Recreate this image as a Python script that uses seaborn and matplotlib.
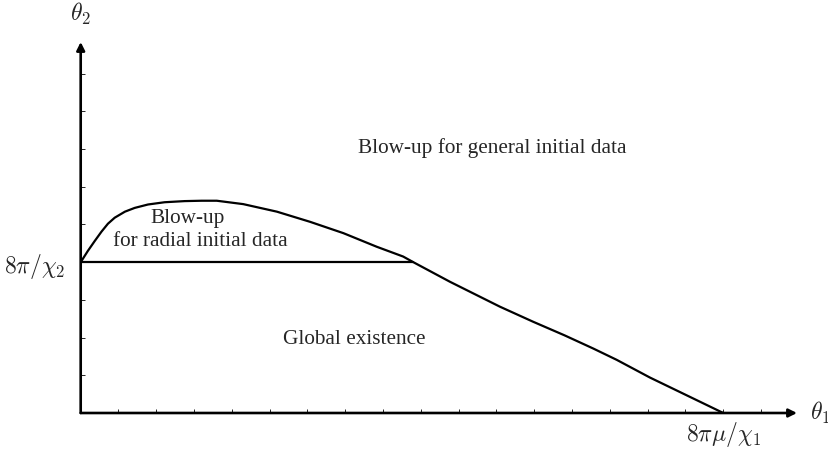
import matplotlib
matplotlib.use("Agg")
import matplotlib.pyplot as plt
import seaborn as sns
import pandas as pd

# Boundary curve between regions
curve_x = [0, 0.19, 0.37, 0.55, 0.72, 0.90, 1.17, 1.43, 1.78, 2.22, 2.75, 3.2, 3.60,
           4.30, 5.19, 6.07, 6.95, 7.83, 8.53, 8.80, 9.77, 11.09, 11.97, 12.8, 13.56,
           14.18, 15.06, 16.03, 17.0]
curve_y = [4.0, 4.30, 4.56, 4.81, 5.02, 5.18, 5.34, 5.44, 5.53, 5.59, 5.62, 5.63, 5.63,
           5.54, 5.34, 5.07, 4.77, 4.41, 4.15, 4.0, 3.48, 2.82, 2.42, 2.06, 1.71,
           1.41, 0.94, 0.47, 0.0]
# Horizontal threshold line at 8*pi/chi2
hline_x = [0, 8.80]
hline_y = [4.0, 4.0]
# Ticks
x_ticks = list(range(0, 19))
y_ticks = list(range(0, 10))
x_label_tick = 17
y_label_tick = 4
x_tick_label = r"$8\pi\mu/\chi_1$"
y_tick_label = r"$8\pi/\chi_2$"
region_labels = ["Blow-up for general initial data", "Global existence", "Blow-up",
                 "for radial initial data"]

sns.set_theme(style="white")
plt.rcParams["font.family"] = ["Liberation Serif", "DejaVu Serif"]
plt.rcParams["mathtext.fontset"] = "cm"

W, H = 829, 451
fig = plt.figure(figsize=(W / 100, H / 100), dpi=100)
ax = fig.add_axes([80.7 / W, 38 / H, (797 - 80.7) / W, (413 - 42) / H])
ax.set_xlim(0, 18.95)
ax.set_ylim(0, 9.84)

df_c = pd.DataFrame({"x": curve_x, "y": curve_y})
df_h = pd.DataFrame({"x": hline_x, "y": hline_y})
sns.lineplot(data=df_c, x="x", y="y", sort=False, estimator=None, color="black",
             lw=1.6, ax=ax)
sns.lineplot(data=df_h, x="x", y="y", sort=False, estimator=None, color="black",
             lw=1.6, ax=ax)

for s in ax.spines.values():
    s.set_visible(False)

# Axes with arrows
for tip in [(18.95, 0), (0, 9.84)]:
    ax.annotate("", xy=tip, xytext=(0, 0),
                arrowprops=dict(arrowstyle="-|>", lw=1.9, color="black",
                                mutation_scale=12, shrinkA=0, shrinkB=0),
                annotation_clip=False)

ax.set_xticks(x_ticks)
ax.set_yticks(y_ticks)
ax.set_xticklabels([x_tick_label if t == x_label_tick else "" for t in x_ticks])
ax.set_yticklabels([y_tick_label if t == y_label_tick else "" for t in y_ticks])
ax.tick_params(axis="both", direction="in", length=3, width=0.6, color="black",
               labelsize=17, bottom=True, left=True)
ax.tick_params(axis="x", pad=5)
ax.tick_params(axis="y", pad=11)
ax.set_xlabel("")
ax.set_ylabel("")

ax.text(19.3, 0, r"$\theta_1$", fontsize=17, ha="left", va="center", clip_on=False)
ax.text(0, 10.58, r"$\theta_2$", fontsize=17, ha="center", va="center", clip_on=False)

fs = 15.3
ax.text(10.88, 7.03, region_labels[0], fontsize=fs, ha="center", va="center")
ax.text(7.23, 1.94, region_labels[1], fontsize=fs, ha="center", va="center")
ax.text(2.84, 5.17, region_labels[2], fontsize=fs, ha="center", va="center")
ax.text(3.16, 4.54, region_labels[3], fontsize=fs, ha="center", va="center")

fig.savefig("out.png", dpi=100)
